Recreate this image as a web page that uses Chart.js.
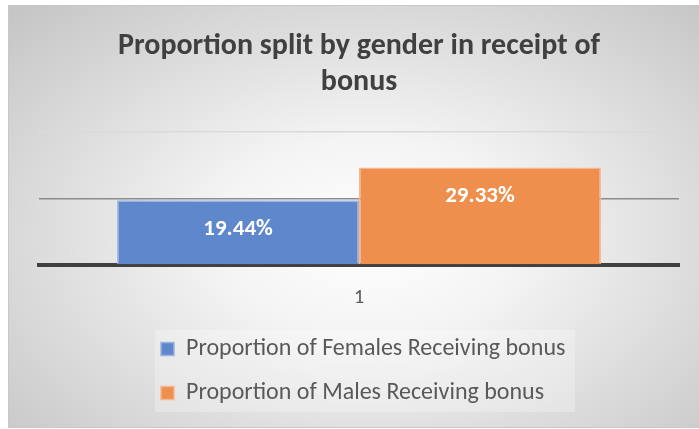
<!DOCTYPE html>
<html>
<head>
<meta charset="utf-8">
<script src="https://cdn.jsdelivr.net/npm/chart.js@4.4.1/dist/chart.umd.min.js"></script>
<style>
  html, body { margin: 0; padding: 0; background: #fff; }
  #frame {
    position: absolute; left: 8px; top: 5px;
    width: 690px; height: 421px;
    border: 1px solid #c8c8c8;
    background: radial-gradient(ellipse farthest-corner at 52% 55%, #ffffff 0%, #f4f4f4 30%, #c4c4c4 100%);
  }
  #chart { display: block; }
</style>
</head>
<body>
<div id="frame"><canvas id="chart" width="690" height="421"></canvas></div>
<script>
const categories = ["1"];
const seriesNames = ["Proportion of Females Receiving bonus", "Proportion of Males Receiving bonus"];
const femaleValues = [19.44];
const maleValues = [29.33];

const FONT = "'Carlito', 'Liberation Sans Narrow', 'DejaVu Sans Condensed', Roboto, sans-serif";

// white labels written near the top of each bar
const barLabels = {
  id: "barLabels",
  afterDatasetsDraw(chart) {
    const ctx = chart.ctx;
    ctx.save();
    ctx.fillStyle = "#ffffff";
    ctx.font = "bold 23px " + FONT;
    ctx.textAlign = "center";
    ctx.textBaseline = "middle";
    chart.data.datasets.forEach((ds, i) => {
      chart.getDatasetMeta(i).data.forEach((bar, j) => {
        ctx.fillText(ds.data[j].toFixed(2) + "%", bar.x, bar.y + 29);
      });
    });
    ctx.restore();
  }
};

// legend items left-aligned in a block, with a faint white box behind
const legendBox = {
  id: "legendBox",
  afterLayout(chart) {
    if (chart.legend) chart.legend.left = 132;
  },
  beforeDraw(chart) {
    const lg = chart.legend;
    if (!lg) return;
    const ctx = chart.ctx;
    ctx.save();
    ctx.fillStyle = "rgba(255,255,255,0.25)";
    ctx.fillRect(146, lg.top + 13, 420, lg.height - 16);
    ctx.restore();
  }
};

new Chart(document.getElementById("chart"), {
  type: "bar",
  data: {
    labels: categories,
    datasets: [
      {
        label: seriesNames[0],
        data: femaleValues,
        backgroundColor: "#5f87cc",
        borderColor: "#9db4e0",
        borderWidth: 1.5
      },
      {
        label: seriesNames[1],
        data: maleValues,
        backgroundColor: "#ee8f4e",
        borderColor: "#f5b690",
        borderWidth: 1.5
      }
    ]
  },
  options: {
    responsive: false,
    animation: false,
    layout: { padding: { left: 30, right: 20, top: 22, bottom: 12 } },
    datasets: { bar: { categoryPercentage: 0.756, barPercentage: 1 } },
    scales: {
      x: {
        grid: { display: false, drawTicks: false },
        border: { display: true, color: "#404040", width: 4 },
        ticks: { color: "#595959", font: { family: FONT, size: 20 }, padding: 21 },
        afterFit: s => { s.height = 52; }
      },
      y: {
        min: 0,
        max: 40,
        ticks: { display: false, stepSize: 20 },
        border: { display: false },
        grid: {
          drawTicks: false,
          lineWidth: 1.5,
          color: c => c.tick.value === 20 ? "#8c8c8c" : (c.tick.value === 40 ? "#dadada" : "rgba(0,0,0,0)")
        }
      }
    },
    plugins: {
      title: {
        display: true,
        text: ["Proportion split by gender in receipt of", "bonus"],
        color: "#404040",
        font: { family: FONT, size: 30, weight: "bold", lineHeight: 1.2 },
        padding: { top: 0, bottom: 32 }
      },
      legend: {
        position: "bottom",
        align: "start",
        labels: {
          color: "#595959",
          font: { family: FONT, size: 24 },
          boxWidth: 13,
          boxHeight: 13,
          padding: 20
        }
      },
      tooltip: { enabled: false }
    }
  },
  plugins: [barLabels, legendBox]
});
</script>
</body>
</html>
